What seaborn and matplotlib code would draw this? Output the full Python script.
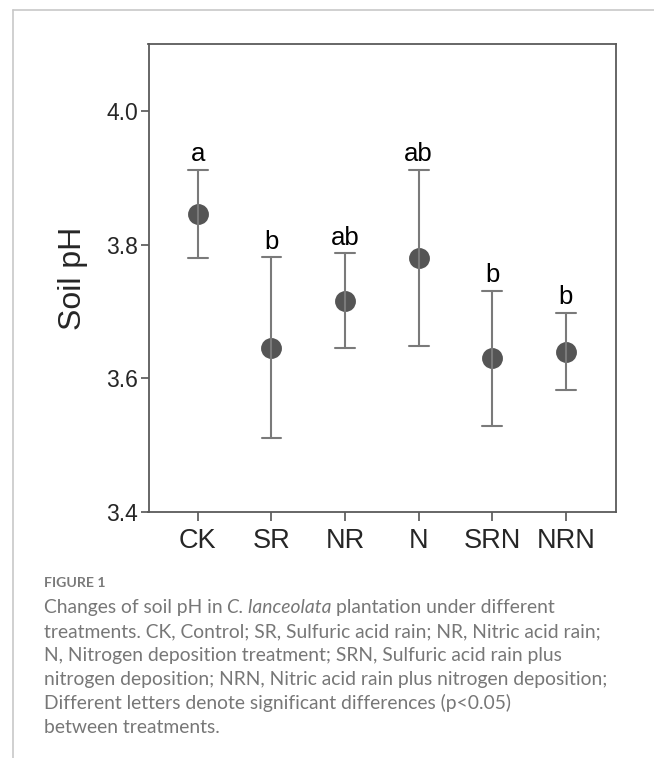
import numpy as np
import pandas as pd
import matplotlib
matplotlib.use("Agg")
import matplotlib.pyplot as plt
from matplotlib.lines import Line2D
import seaborn as sns

# treatments, mean soil pH and error bar half-width
groups = ["CK", "SR", "NR", "N", "SRN", "NRN"]
ph_mean = [3.846, 3.646, 3.716, 3.780, 3.630, 3.640]
ph_err = [0.066, 0.135, 0.071, 0.132, 0.101, 0.058]
letters = ["a", "b", "ab", "ab", "b", "b"]
yticks = [3.4, 3.6, 3.8, 4.0]

caption_title = "FIGURE 1"
caption_lines = [
    [("Changes of soil pH in", "normal"), ("C. lanceolata", "italic"), ("plantation under different", "normal")],
    [("treatments. CK, Control; SR, Sulfuric acid rain; NR, Nitric acid rain;", "normal")],
    [("N, Nitrogen deposition treatment; SRN, Sulfuric acid rain plus", "normal")],
    [("nitrogen deposition; NRN, Nitric acid rain plus nitrogen deposition;", "normal")],
    [("Different letters denote significant differences (p<0.05)", "normal")],
    [("between treatments.", "normal")],
]

sns.set_style("white")
plt.rcParams["font.family"] = ["Liberation Sans", "DejaVu Sans"]

W, H = 654, 758
fig = plt.figure(figsize=(W / 100, H / 100), dpi=100)
fig.patch.set_facecolor("white")

# page frame lines (light grey)
fig.add_artist(Line2D([13 / W, 1], [1 - 9.5 / H, 1 - 9.5 / H], color="#c8c8c8", lw=1.2))
fig.add_artist(Line2D([13 / W, 13 / W], [0, 1 - 9.5 / H], color="#c8c8c8", lw=1.2))

ax = fig.add_axes([148.5 / W, 1 - 512 / H, (616 - 148.5) / W, (512 - 44) / H])

# each group as two rows (low / high end of its error bar) so that the
# point estimate is the mean and the 0-100 percentile interval is the bar
rows = []
for g, m, e in zip(groups, ph_mean, ph_err):
    rows.append({"group": g, "ph": m - e})
    rows.append({"group": g, "ph": m + e})
df = pd.DataFrame(rows)

sns.pointplot(data=df, x="group", y="ph", order=groups, estimator="mean",
              errorbar=("pi", 100), linestyle="none", markers="o",
              markersize=13, capsize=0.27, color="#555555",
              err_kws={"color": "#7a7a7a", "linewidth": 1.5}, ax=ax)

for i, (m, e, lab) in enumerate(zip(ph_mean, ph_err, letters)):
    ax.annotate(lab, (i, m + e), xytext=(0, 6), textcoords="offset points",
                ha="center", va="baseline", fontsize=18.5, color="black")

ax.set_xlim(-0.67, 5.68)
ax.set_ylim(3.4, 4.1)
ax.set_yticks(yticks)
ax.set_yticklabels([f"{v:.1f}" for v in yticks])
ax.set_xlabel("")
ax.set_ylabel("Soil pH", fontsize=23, labelpad=13)
ax.tick_params(axis="y", direction="out", length=6, width=1.2, color="#555555",
               pad=1.5, labelsize=16.5, left=True)
ax.tick_params(axis="x", direction="out", length=6.5, width=1.2, color="#555555",
               pad=5, labelsize=19.5, bottom=True)
for sp in ax.spines.values():
    sp.set_color("#5a5a5a")
    sp.set_linewidth(1.3)
ax.grid(False)

# caption
cap_font = ["Lato", "DejaVu Sans"]
x0 = 43.5 / W
fig.text(x0, 1 - 587 / H, caption_title, fontsize=10.2, fontweight="bold",
         color="#7a7a7a", family=cap_font, va="baseline")

r = fig.canvas.get_renderer()
probe = fig.text(0, 0, "nitrogen deposition; NRN, Nitric acid rain plus nitrogen deposition;",
                 fontsize=10, family=cap_font)
w10 = probe.get_window_extent(r).width
probe.remove()
cap_size = 10 * 565 / w10


def text_width(s, style):
    t = fig.text(0, 0, s, fontsize=cap_size, family=cap_font, fontstyle=style)
    w = t.get_window_extent(r).width
    t.remove()
    return w


space_w = text_width("x x", "normal") - text_width("xx", "normal")

for k, parts in enumerate(caption_lines):
    y = 1 - (613 + 24 * k) / H
    xpx = 43.5
    for s, style in parts:
        fig.text(xpx / W, y, s, fontsize=cap_size, family=cap_font,
                 fontstyle=style, color="#777777", va="baseline")
        xpx += text_width(s, style) + space_w

fig.savefig("out.png", dpi=100, facecolor="white")
